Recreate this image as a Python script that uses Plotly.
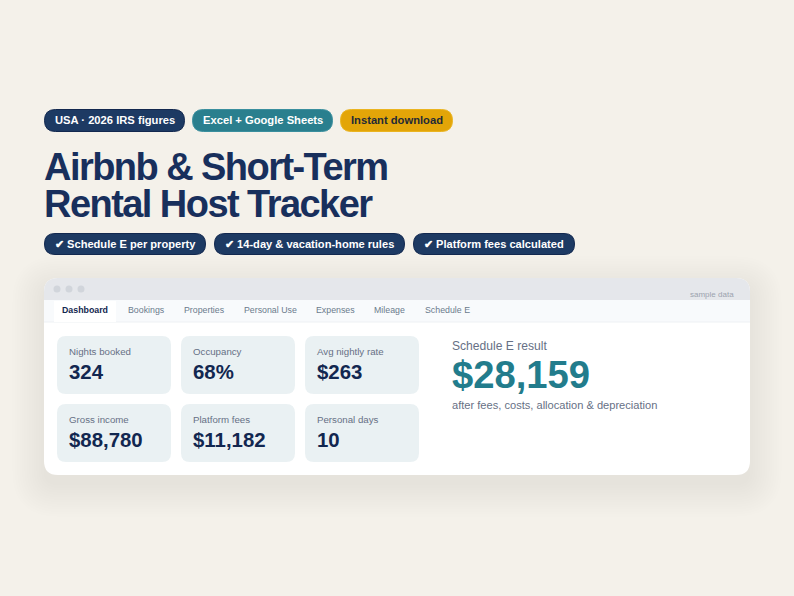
import plotly.graph_objects as go

# texts
top_pills = ["USA · 2026 IRS figures", "Excel + Google Sheets", "Instant download"]
check_pills = ["✔ Schedule E per property", "✔ 14-day & vacation-home rules", "✔ Platform fees calculated"]
title_lines = ["Airbnb & Short-Term", "Rental Host Tracker"]
tabs = ["Dashboard", "Bookings", "Properties", "Personal Use", "Expenses", "Mileage", "Schedule E"]
kpi_labels = ["Nights booked", "Occupancy", "Avg nightly rate", "Gross income", "Platform fees", "Personal days"]
kpi_values = ["324", "68%", "$263", "$88,780", "$11,182", "10"]
result_label = "Schedule E result"
result_value = "$28,159"
result_note = "after fees, costs, allocation & depreciation"
sample_note = "sample data"

W, H = 794, 596
FONT = "Liberation Sans"
NAVY = "#1d3a63"
INK = "#122750"
TEAL = "#227c8c"
GOLD = "#e3a508"
GREY = "#667085"

fig = go.Figure()


def rr(x0, y0, x1, y1, r, color, corners=(1, 1, 1, 1), line=None):
    # rounded rect as svg path, corners = tl, tr, br, bl
    tl, tr, br, bl = [r * c for c in corners]
    p = f"M{x0+tl},{y0} L{x1-tr},{y0} Q{x1},{y0} {x1},{y0+tr} L{x1},{y1-br} Q{x1},{y1} {x1-br},{y1} "
    p += f"L{x0+bl},{y1} Q{x0},{y1} {x0},{y1-bl} L{x0},{y0+tl} Q{x0},{y0} {x0+tl},{y0} Z"
    fig.add_shape(type="path", path=p, xref="x", yref="y", fillcolor=color,
                  line=dict(color=line, width=1) if line else dict(width=0))


def txt(x, y, s, size, color, bold=False, anchor="left"):
    fig.add_annotation(x=x, y=y, xref="x", yref="y", text=f"<b>{s}</b>" if bold else s, showarrow=False,
                       xanchor=anchor, yanchor="middle", align=anchor, borderpad=0, borderwidth=0,
                       font=dict(family=FONT, size=size, color=color))


# top pills
top_x = [(44, 185), (192, 333), (340, 453)]
top_fill = [NAVY, "#2a7f8e", GOLD]
top_edge = ["#12284f", "#3a8f9e", "#eab420"]
top_ink = ["white", "white", "#1f2a37"]
for (x0, x1), s, c, e, ink in zip(top_x, top_pills, top_fill, top_edge, top_ink):
    rr(x0 + .5, 109.5, x1 - .5, 131.5, 11, c, line=e)
    txt((x0 + x1) / 2, 119.8, s, 11.2, ink, True, "center")

# title
txt(44, 166.5, title_lines[0], 38, "#182f5c", True)
txt(44, 203.5, title_lines[1], 38, "#182f5c", True)

# check pills
check_x = [(44, 206), (214, 405), (413, 575)]
for (x0, x1), s in zip(check_x, check_pills):
    rr(x0 + .5, 233.5, x1 - .5, 254.5, 10.5, NAVY, line="#12284f")
    txt((x0 + x1) / 2, 243.6, s, 11.1, "white", True, "center")

# card shadow, stacked thin layers
for i in range(14):
    g = 32 - i * 2.4
    rr(44 - g, 278 + 10 - g, 750 + g, 475 + 10 + g, 14 + g, "rgba(30,40,50,0.0045)")

# window
rr(44, 278, 750, 475, 14, "white")
rr(44, 278, 750, 300, 14, "#e5e7eb", corners=(1, 1, 0, 0))
rr(44, 300, 750, 322, 0, "#f8fafc")
fig.add_shape(type="line", x0=44, x1=750, y0=322, y1=322, line=dict(color="#eef1f4", width=1))
for cx in [57, 69, 81]:
    fig.add_shape(type="circle", x0=cx - 3.5, x1=cx + 3.5, y0=285.5, y1=292.5, fillcolor="#d1d5db", line=dict(width=0))
txt(734, 294, sample_note, 8, "#9ca3af", False, "right")

# tabs
tab_x = [62, 128, 184, 244, 316, 374, 425]
rr(54, 301, 116, 322, 0, "white")
for i, (x, s) in enumerate(zip(tab_x, tabs)):
    if i == 0:
        txt(x, 310, s, 8.8, INK, True)
    else:
        txt(x, 310, s, 8.8, "#6b7a8c")

# kpi tiles
tile_x = [57, 181, 305, 57, 181, 305]
tile_y = [336, 336, 336, 404, 404, 404]
for x, y, lab, val in zip(tile_x, tile_y, kpi_labels, kpi_values):
    rr(x, y, x + 114, y + 58, 9, "#eaf1f3")
    txt(x + 12, y + 15.3, lab, 9.7, GREY)
    txt(x + 12, y + 36, val, 20.4, INK, True)

# result
txt(452, 345.8, result_label, 12.1, GREY)
txt(452, 374, result_value, 38.2, TEAL, True)
txt(452, 404.8, result_note, 11.1, GREY)

fig.update_layout(width=W, height=H, margin=dict(l=0, r=0, t=0, b=0), paper_bgcolor="#f4f1ea",
                  plot_bgcolor="#f4f1ea", showlegend=False,
                  xaxis=dict(range=[0, W], visible=False, fixedrange=True),
                  yaxis=dict(range=[H, 0], visible=False, fixedrange=True))

# plotly has no letter spacing setting, title is set tight in the reference
tighten = """document.body.style.margin='0';
document.querySelectorAll('.annotation-text').forEach(function(t){
  if (parseFloat(t.style.fontSize) === 38) { t.style.letterSpacing = '-1.55px'; }
});"""
fig.write_html("out.html", config={"displayModeBar": False}, post_script=tighten)
